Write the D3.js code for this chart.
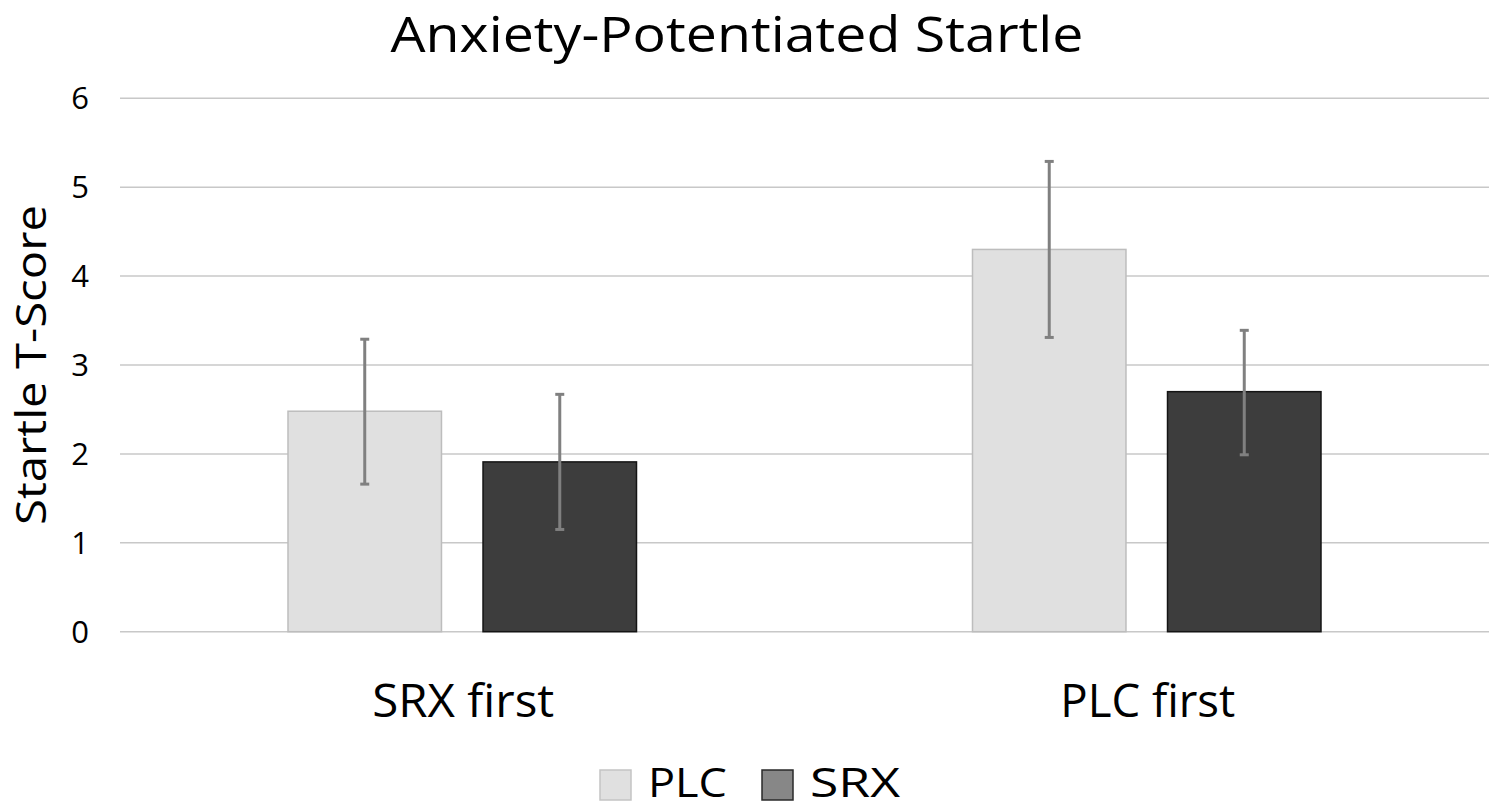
<!DOCTYPE html>
<html>
<head>
<meta charset="utf-8">
<script src="https://cdn.jsdelivr.net/npm/d3@7"></script>
<style>
  html, body { margin: 0; padding: 0; background: #fff; }
  svg { display: block; }
  text { font-family: "Open Sans", "Noto Sans", "DejaVu Sans", sans-serif; fill: #000; }
</style>
</head>
<body>
<svg id="chart" width="1496" height="809"></svg>
<script>
// ---- data ----
const categories = ["SRX first", "PLC first"];
const seriesNames = ["PLC", "SRX"];
const plcValues = [2.48, 4.30];
const srxValues = [1.91, 2.70];
const plcErrLow = [1.66, 3.31];
const plcErrHigh = [3.29, 5.29];
const srxErrLow = [1.15, 1.99];
const srxErrHigh = [2.67, 3.39];
const yTicks = [0, 1, 2, 3, 4, 5, 6];
const titleText = "Anxiety-Potentiated Startle";
const yAxisTitle = "Startle T-Score";

const rows = [];
categories.forEach((c, i) => {
  rows.push({ cat: c, series: "PLC", value: plcValues[i], lo: plcErrLow[i], hi: plcErrHigh[i] });
  rows.push({ cat: c, series: "SRX", value: srxValues[i], lo: srxErrLow[i], hi: srxErrHigh[i] });
});

// ---- layout ----
const svg = d3.select("#chart");
const plotLeft = 120, plotRight = 1489, plotTop = 98.3, plotBottom = 631.7;

const x0 = d3.scaleBand().domain(categories).range([plotLeft, plotRight]).paddingInner(0).paddingOuter(0);
const groupWidth = 348.5;
const x1g = d3.scaleBand().domain(seriesNames).range([0, groupWidth]).paddingInner(0.213).paddingOuter(0);
const y = d3.scaleLinear().domain([0, 6]).range([plotBottom, plotTop]);

const fill = { PLC: "#e0e0e0", SRX: "#3d3d3d" };
const stroke = { PLC: "#bdbdbd", SRX: "#141414" };
const legendFill = { PLC: "#e0e0e0", SRX: "#878787" };
const legendStroke = { PLC: "#c4c4c4", SRX: "#2a2a2a" };

// gridlines
svg.append("g")
  .selectAll("line")
  .data(yTicks)
  .join("line")
  .attr("x1", plotLeft).attr("x2", plotRight)
  .attr("y1", d => y(d)).attr("y2", d => y(d))
  .attr("stroke", "#c8c8c8").attr("stroke-width", 1.5);

// y tick labels
svg.append("g")
  .selectAll("text")
  .data(yTicks)
  .join("text")
  .attr("x", 89).attr("y", d => y(d) + 11)
  .attr("text-anchor", "end")
  .attr("font-size", 31)
  .text(d => d);

// bars
const groups = svg.append("g").selectAll("g")
  .data(categories)
  .join("g")
  .attr("transform", c => `translate(${x0(c) + (x0.bandwidth() - groupWidth) / 2},0)`);

groups.selectAll("rect")
  .data(c => rows.filter(r => r.cat === c))
  .join("rect")
  .attr("x", d => x1g(d.series))
  .attr("width", x1g.bandwidth())
  .attr("y", d => y(d.value))
  .attr("height", d => y(0) - y(d.value))
  .attr("fill", d => fill[d.series])
  .attr("stroke", d => stroke[d.series])
  .attr("stroke-width", 1.5);

// error bars
const eb = groups.selectAll("g.err")
  .data(c => rows.filter(r => r.cat === c))
  .join("g").attr("class", "err");
const cx = d => x1g(d.series) + x1g.bandwidth() / 2;
eb.append("line")
  .attr("x1", cx).attr("x2", cx)
  .attr("y1", d => y(d.hi)).attr("y2", d => y(d.lo))
  .attr("stroke", "#808080").attr("stroke-width", 3);
eb.append("line")
  .attr("x1", d => cx(d) - 4.5).attr("x2", d => cx(d) + 4.5)
  .attr("y1", d => y(d.hi)).attr("y2", d => y(d.hi))
  .attr("stroke", "#808080").attr("stroke-width", 3);
eb.append("line")
  .attr("x1", d => cx(d) - 4.5).attr("x2", d => cx(d) + 4.5)
  .attr("y1", d => y(d.lo)).attr("y2", d => y(d.lo))
  .attr("stroke", "#808080").attr("stroke-width", 3);

// category labels
const catWidths = { "SRX first": 182, "PLC first": 175 };
svg.append("g").selectAll("text")
  .data(categories)
  .join("text")
  .attr("x", c => x0(c) + x0.bandwidth() / 2 + 1)
  .attr("y", 717)
  .attr("text-anchor", "middle")
  .attr("font-size", 46)
  .attr("textLength", c => catWidths[c])
  .attr("lengthAdjust", "spacingAndGlyphs")
  .text(c => c);

// title
svg.append("text")
  .attr("x", 737).attr("y", 52)
  .attr("text-anchor", "middle")
  .attr("font-size", 49)
  .attr("textLength", 693)
  .attr("lengthAdjust", "spacingAndGlyphs")
  .text(titleText);

// y axis title
svg.append("text")
  .attr("transform", "translate(46,365) rotate(-90)")
  .attr("text-anchor", "middle")
  .attr("font-size", 42)
  .attr("textLength", 320)
  .attr("lengthAdjust", "spacingAndGlyphs")
  .text(yAxisTitle);

// legend
const legendX = { PLC: 600, SRX: 762 };
const legendW = { PLC: 79, SRX: 90 };
const lg = svg.append("g").selectAll("g")
  .data(seriesNames)
  .join("g");
lg.append("rect")
  .attr("x", s => legendX[s]).attr("y", 770)
  .attr("width", 31).attr("height", 30)
  .attr("fill", s => legendFill[s])
  .attr("stroke", s => legendStroke[s]).attr("stroke-width", 1.5);
lg.append("text")
  .attr("x", s => legendX[s] + 48).attr("y", 797)
  .attr("font-size", 40)
  .attr("textLength", s => legendW[s])
  .attr("lengthAdjust", "spacingAndGlyphs")
  .text(s => s);
</script>
</body>
</html>
